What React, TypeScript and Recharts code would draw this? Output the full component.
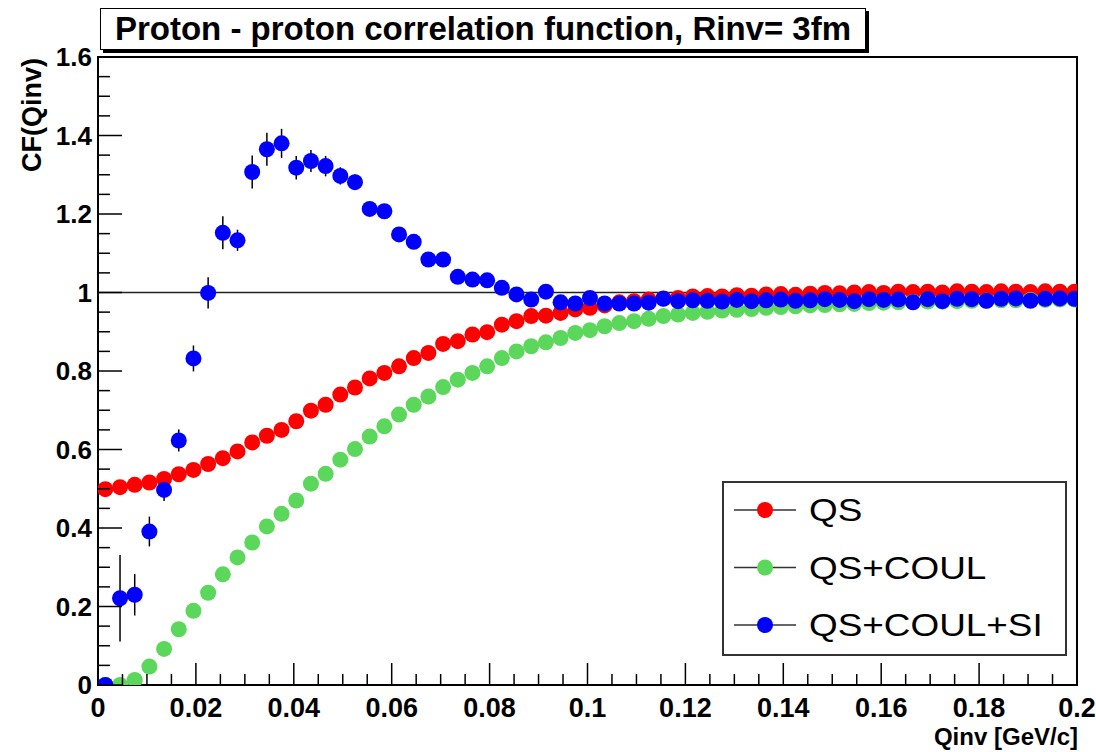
import React from 'react';
import {
  ErrorBar,
  Legend,
  ReferenceArea,
  ReferenceLine,
  Scatter,
  ScatterChart,
  XAxis,
  YAxis,
} from 'recharts';

// Qinv bin centres [GeV/c]
const qinv = [
  0.0015, 0.0045, 0.0075, 0.0105, 0.0135, 0.0165, 0.0195, 0.0225, 0.0255, 0.0285,
  0.0315, 0.0345, 0.0375, 0.0405, 0.0435, 0.0465, 0.0495, 0.0525, 0.0555, 0.0585,
  0.0615, 0.0645, 0.0675, 0.0705, 0.0735, 0.0765, 0.0795, 0.0825, 0.0855, 0.0885,
  0.0915, 0.0945, 0.0975, 0.1005, 0.1035, 0.1065, 0.1095, 0.1125, 0.1155, 0.1185,
  0.1215, 0.1245, 0.1275, 0.1305, 0.1335, 0.1365, 0.1395, 0.1425, 0.1455, 0.1485,
  0.1515, 0.1545, 0.1575, 0.1605, 0.1635, 0.1665, 0.1695, 0.1725, 0.1755, 0.1785,
  0.1815, 0.1845, 0.1875, 0.1905, 0.1935, 0.1965, 0.1995,
];

// QS only
const cfQs = [
  0.499, 0.504, 0.51, 0.516, 0.525, 0.537, 0.548, 0.563, 0.578, 0.595,
  0.618, 0.635, 0.65, 0.672, 0.699, 0.714, 0.74, 0.758, 0.781, 0.795,
  0.812, 0.833, 0.846, 0.869, 0.876, 0.893, 0.899, 0.918, 0.927, 0.94,
  0.941, 0.948, 0.957, 0.961, 0.967, 0.975, 0.978, 0.982, 0.985, 0.986,
  0.99, 0.991, 0.99, 0.993, 0.992, 0.995, 0.996, 0.994, 0.997, 0.999,
  0.998, 1.0, 1.001, 0.999, 1.002, 1.001, 1.002, 1.0, 1.003, 1.002,
  1.001, 1.003, 1.002, 1.001, 1.003, 1.002, 1.002,
];

// QS + Coulomb
const cfQsCoul = [
  0.0, 0.0, 0.013, 0.047, 0.092, 0.142, 0.189, 0.235, 0.282, 0.325,
  0.363, 0.404, 0.436, 0.47, 0.513, 0.538, 0.574, 0.601, 0.633, 0.659,
  0.689, 0.714, 0.735, 0.759, 0.778, 0.795, 0.812, 0.833, 0.85, 0.863,
  0.873, 0.884, 0.897, 0.904, 0.914, 0.922, 0.927, 0.933, 0.94, 0.944,
  0.948, 0.951, 0.954, 0.956, 0.958, 0.961, 0.963, 0.965, 0.967, 0.968,
  0.97, 0.971, 0.973, 0.974, 0.975, 0.976, 0.977, 0.977, 0.978, 0.979,
  0.979, 0.98, 0.98, 0.981, 0.981, 0.982, 0.982,
];

// QS + Coulomb + strong interaction
const cfFull = [
  0.0, 0.221, 0.23, 0.391, 0.497, 0.623, 0.832, 0.999, 1.152, 1.133,
  1.307, 1.365, 1.38, 1.318, 1.335, 1.322, 1.297, 1.281, 1.213, 1.207,
  1.148, 1.129, 1.084, 1.084, 1.04, 1.033, 1.031, 1.012, 0.995, 0.982,
  1.002, 0.975, 0.972, 0.986, 0.972, 0.972, 0.972, 0.974, 0.984, 0.978,
  0.98, 0.979, 0.977, 0.981, 0.978, 0.98, 0.982, 0.979, 0.98, 0.983,
  0.981, 0.978, 0.983, 0.981, 0.982, 0.975, 0.983, 0.978, 0.984, 0.983,
  0.979, 0.984, 0.985, 0.979, 0.984, 0.985, 0.984,
];

const cfFullErr = [
  0.0, 0.11, 0.053, 0.038, 0.028, 0.028, 0.033, 0.04, 0.042, 0.027,
  0.042, 0.042, 0.037, 0.03, 0.028, 0.026, 0.022, 0.02, 0.018, 0.016,
  0.015, 0.014, 0.013, 0.012, 0.011, 0.01, 0.01, 0.01, 0.009, 0.009,
  0.009, 0.009, 0.008, 0.008, 0.008, 0.008, 0.008, 0.007, 0.007, 0.007,
  0.007, 0.007, 0.007, 0.007, 0.006, 0.006, 0.006, 0.006, 0.006, 0.006,
  0.006, 0.006, 0.006, 0.006, 0.006, 0.006, 0.006, 0.006, 0.006, 0.006,
  0.006, 0.006, 0.006, 0.006, 0.006, 0.006, 0.006,
];

const xMajor = [0, 0.02, 0.04, 0.06, 0.08, 0.1, 0.12, 0.14, 0.16, 0.18, 0.2];
const xLabels = ['0', '0.02', '0.04', '0.06', '0.08', '0.1', '0.12', '0.14', '0.16', '0.18', '0.2'];
const yMajor = [0, 0.2, 0.4, 0.6, 0.8, 1, 1.2, 1.4, 1.6];
const yLabels = ['0', '0.2', '0.4', '0.6', '0.8', '1', '1.2', '1.4', '1.6'];

// 4 minor divisions per major on both axes (ROOT style)
const subdivide = (major: number[], n: number) => {
  const out: number[] = [];
  for (let i = 0; i < major.length - 1; i++) {
    for (let k = 0; k < n; k++) out.push(+(major[i] + ((major[i + 1] - major[i]) * k) / n).toFixed(4));
  }
  out.push(major[major.length - 1]);
  return out;
};
const xTicks = subdivide(xMajor, 4);
const yTicks = subdivide(yMajor, 4);

const series = [
  { name: 'QS', color: '#ff0000', values: cfQs },
  { name: 'QS+COUL', color: '#5bd75b', values: cfQsCoul },
  { name: 'QS+COUL+SI', color: '#0000ff', values: cfFull },
];

const FONT = '"Liberation Sans", Arial, Helvetica, sans-serif';

const majorIndex = (list: number[], v: number) => list.findIndex((m) => Math.abs(m - v) < 1e-6);

const XTick = (props: any) => {
  const { x, y, payload } = props;
  const idx = majorIndex(xMajor, payload.value);
  const major = idx >= 0;
  return (
    <g>
      <line x1={x} x2={x} y1={y} y2={y - (major ? 22 : 11)} stroke="#000" strokeWidth={1.5} />
      {major && (
        <text x={x} y={y + 32} textAnchor="middle" fontFamily={FONT} fontWeight="bold" fontSize={27} fill="#000">
          {xLabels[idx]}
        </text>
      )}
    </g>
  );
};

const YTick = (props: any) => {
  const { x, y, payload } = props;
  const idx = majorIndex(yMajor, payload.value);
  const major = idx >= 0;
  return (
    <g>
      <line x1={x} x2={x + (major ? 24 : 12)} y1={y} y2={y} stroke="#000" strokeWidth={1.5} />
      {major && (
        <text x={x - 6} y={y + 9} textAnchor="end" fontFamily={FONT} fontWeight="bold" fontSize={26} fill="#000">
          {yLabels[idx]}
        </text>
      )}
    </g>
  );
};

const XTitle = (props: any) => {
  const { x, y, width } = props.viewBox;
  return (
    <text x={x + width + 1} y={y + 60} textAnchor="end" fontFamily={FONT} fontWeight="bold" fontSize={24} fill="#000">
      Qinv [GeV/c]
    </text>
  );
};

const YTitle = (props: any) => {
  const { y } = props.viewBox;
  return (
    <text
      x={41}
      y={y + 1}
      transform={`rotate(-90 41 ${y + 1})`}
      textAnchor="end"
      fontFamily={FONT}
      fontWeight="bold"
      fontSize={27}
      fill="#000"
    >
      CF(Qinv)
    </text>
  );
};

const dot = (color: string) => (props: any) => <circle cx={props.cx} cy={props.cy} r={8} fill={color} />;

const LegendBox = () => (
  <div style={{ width: 345, height: 175, border: '2px solid #333', background: '#fff', boxSizing: 'border-box' }}>
    <svg width={341} height={171}>
      {series.map((s, i) => {
        const cy = 27 + i * 57.5;
        return (
          <g key={s.name}>
            <line x1={10} x2={72} y1={cy} y2={cy} stroke="#333" strokeWidth={1.5} />
            <circle cx={41} cy={cy} r={8} fill={s.color} />
            <text
              transform={`translate(85 ${cy + 11}) scale(1.19 1)`}
              fontFamily={FONT}
              fontSize={31}
              fill="#000"
            >
              {s.name}
            </text>
          </g>
        );
      })}
    </svg>
  </div>
);

export default function App() {
  const data = series.map((s, si) =>
    qinv.map((q, i) => ({ q, cf: s.values[i], err: si === 2 ? cfFullErr[i] : 0 })),
  );

  return (
    <div style={{ position: 'absolute', left: 0, top: 0, width: 1096, height: 752, background: '#fff' }}>
      <ScatterChart width={1096} height={752} margin={{ top: 57, right: 19, bottom: 27, left: 38 }}>
        <XAxis
          type="number"
          dataKey="q"
          domain={[0, 0.2]}
          ticks={xTicks}
          interval={0}
          allowDataOverflow
          height={40}
          tickSize={0}
          tickMargin={0}
          tickLine={false}
          axisLine={{ stroke: '#000', strokeWidth: 2 }}
          tick={<XTick />}
          label={<XTitle />}
        />
        <YAxis
          type="number"
          dataKey="cf"
          domain={[0, 1.6]}
          ticks={yTicks}
          interval={0}
          allowDataOverflow
          width={60}
          tickSize={0}
          tickMargin={0}
          tickLine={false}
          axisLine={{ stroke: '#000', strokeWidth: 2 }}
          tick={<YTick />}
          label={<YTitle />}
        />
        <ReferenceArea x1={0} x2={0.2} y1={0} y2={1.6} fill="none" stroke="#000" strokeWidth={2} />
        <ReferenceLine y={1} stroke="#222" strokeWidth={1.5} />
        {series.map((s, si) => (
          <Scatter
            key={s.name}
            name={s.name}
            data={data[si]}
            fill={s.color}
            shape={dot(s.color)}
            isAnimationActive={false}
          >
            {si === 2 && <ErrorBar dataKey="err" direction="y" width={0} stroke="#000" strokeWidth={1.5} />}
          </Scatter>
        ))}
        <Legend
          layout="vertical"
          align="center"
          verticalAlign="middle"
          content={<LegendBox />}
          wrapperStyle={{ position: 'absolute', left: 722, top: 481, width: 345, height: 175 }}
        />
      </ScatterChart>
      <div
        style={{
          position: 'absolute',
          left: 100,
          top: 8,
          width: 766,
          height: 42,
          boxSizing: 'border-box',
          border: '1.5px solid #000',
          background: '#fff',
          boxShadow: '3px 3px 0 #000',
          fontFamily: FONT,
          fontWeight: 'bold',
          fontSize: 33,
          lineHeight: '39px',
          textAlign: 'center',
          color: '#000',
          whiteSpace: 'nowrap',
        }}
      >
        Proton - proton correlation function, Rinv= 3fm
      </div>
    </div>
  );
}
